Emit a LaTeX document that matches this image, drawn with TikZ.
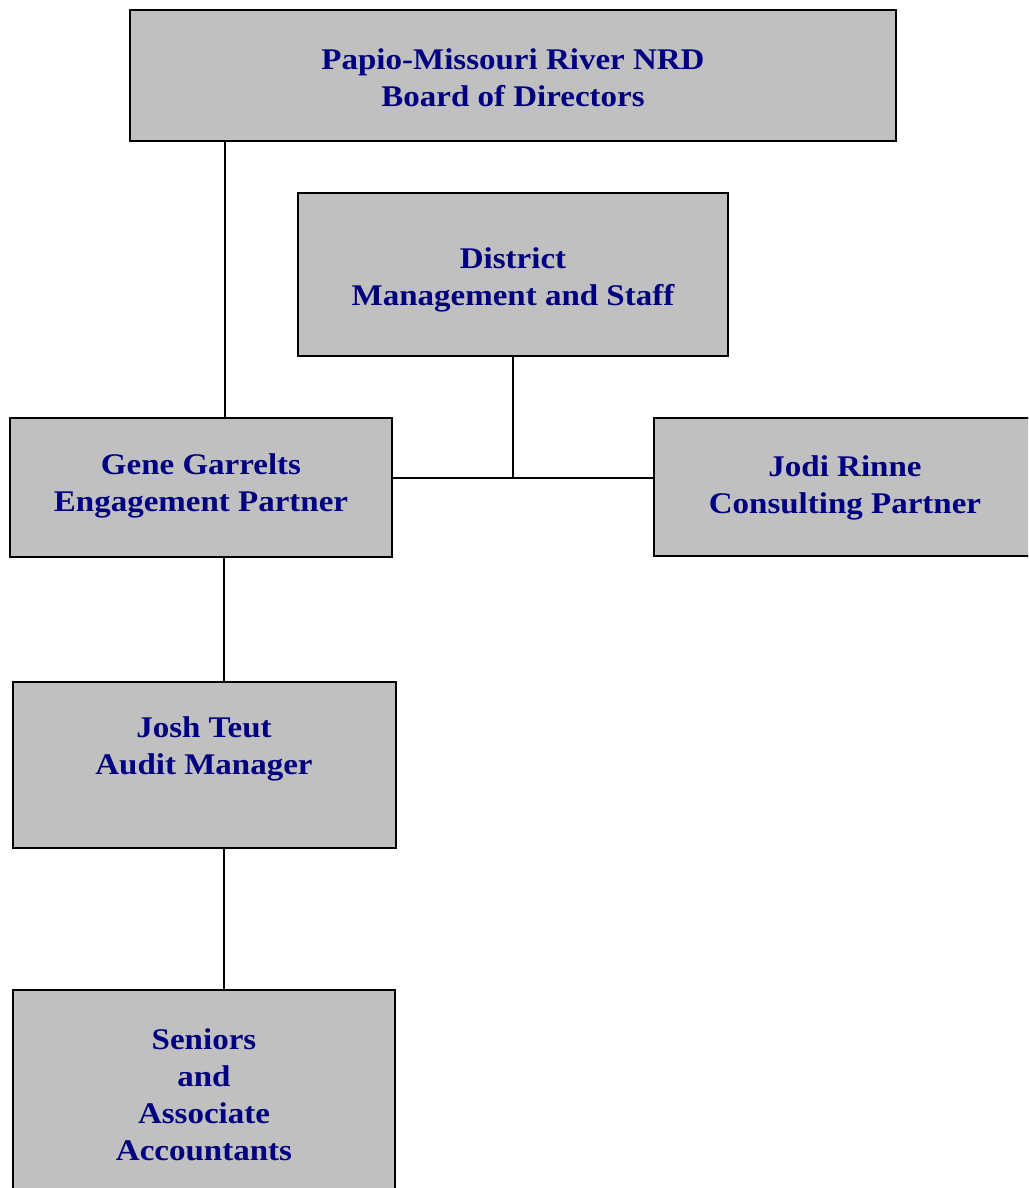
\documentclass[tikz,border=0pt]{standalone}
\usepackage{fontspec}
\setmainfont{Liberation Serif}[FakeStretch=1.1]
\definecolor{navytext}{RGB}{0,0,128}
\definecolor{boxgray}{RGB}{192,192,192}
\begin{document}
\begin{tikzpicture}[x=1pt,y=-1pt,
  box/.style={draw=black, line width=2.2pt, fill=boxgray, anchor=north west, inner sep=0pt, outer sep=0pt},
  lbl/.style={text=navytext, font=\fontsize{30}{37}\selectfont\bfseries, align=center, inner sep=0pt},
  conn/.style={draw=black, line width=2pt}]
\useasboundingbox (0,0) rectangle (1028,1188);
\begin{scope}
\clip (0,0) rectangle (1028,1188);
\node[box, minimum width=766pt, minimum height=131pt] (top) at (130,10) {};
\node[box, minimum width=430pt, minimum height=163pt] (district) at (298,193) {};
\node[box, minimum width=382pt, minimum height=139pt] (gene) at (10,418) {};
\node[box, minimum width=384pt, minimum height=138pt] (jodi) at (654,418) {};
\node[box, minimum width=383pt, minimum height=166pt] (josh) at (13,682) {};
\node[box, minimum width=382pt, minimum height=260pt] (seniors) at (13,990) {};
\end{scope}
\node[lbl] (toptext) at (513,78) {Papio-Missouri River NRD\\Board of Directors};
\node[lbl] (districttext) at (513,280) {District\\Management and Staff};
\node[lbl] (genetext) at (201,486) {Gene Garrelts\\Engagement Partner};
\node[lbl] (joditext) at (845,488) {Jodi Rinne\\Consulting Partner};
\node[lbl] (joshtext) at (204,749) {Josh Teut\\Audit Manager};
\node[lbl] (seniorstext) at (204,1095) {Seniors\\and\\Associate\\Accountants};
\coordinate (hline) at ([yshift=10pt]gene.east);
\coordinate (junction) at (hline -| district.south);
\draw[conn] ([xshift=24pt]gene.north) -- ([xshift=24pt]gene.north |- top.south);
\draw[conn] (district.south) -- ([yshift=-1pt]junction);
\draw[conn] (hline) -- (hline -| jodi.west);
\draw[conn] ([xshift=23pt]gene.south) -- ([xshift=23pt]gene.south |- josh.north);
\draw[conn] ([xshift=19pt]josh.south) -- ([xshift=19pt]josh.south |- seniors.north);
\end{tikzpicture}
\end{document}
